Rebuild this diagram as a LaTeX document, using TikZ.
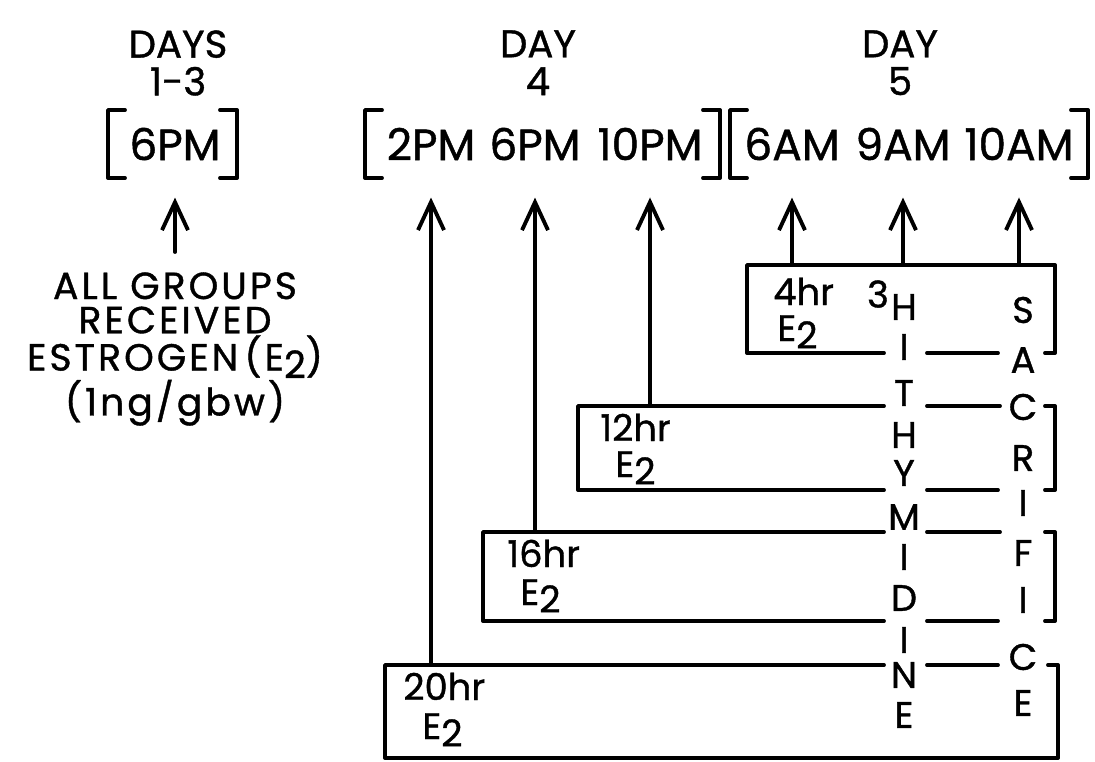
\documentclass[tikz,border=0pt]{standalone}
\usepackage{fontspec}
\setmainfont{Poppins}[FakeBold=1]
\newfontfamily\widefont{Poppins}[FakeBold=1, LetterSpace=8]
\usetikzlibrary{arrows.meta, positioning}

\newcommand{\Etwo}{E\raisebox{-0.2em}{2}}

\begin{document}
\begin{tikzpicture}[x=0.02cm, y=-0.02cm, every node/.style={inner sep=0pt}]
    % Define styles
    \tikzstyle{head} = [font=\fontsize{22}{21.5}\selectfont, align=center, anchor=north]
    \tikzstyle{clock} = [font=\fontsize{25}{25}\selectfont]
    \tikzstyle{dose} = [font=\fontsize{21}{21}\selectfont, anchor=base west]
    \tikzstyle{letter} = [font=\fontsize{21}{21}\selectfont]
    \tikzstyle{rule} = [line width=2.2pt, line cap=round, line join=round]
    \tikzstyle{uparrow} = [rule, -{Straight Barb[length=0.56cm, width=0.52cm]}]

    \useasboundingbox (0,0) rectangle (1095,761);

    % Day headers
    \node[head] (days13) at (178,30) {DAYS\\1-3};
    \node[head] (day4) at (538,30) {DAY\\4};
    \node[head] (day5) at (900,30) {DAY\\5};

    % Clock times
    \node[clock] (t6pm) at (175,144) {6PM};
    \node[clock] (t2pm) at (431,144) {2PM};
    \node[clock] (t6pmb) at (535,144) {6PM};
    \node[clock] (t10pm) at (650,144) {10PM};
    \node[clock] (t6am) at (792,144) {6AM};
    \node[clock] (t9am) at (903,144) {9AM};
    \node[clock] (t10am) at (1019,144) {10AM};

    % Brackets round the times
    \foreach \xl/\xr in {108/237, 365/720, 730/1088} {
        \draw[rule] (\xl+17,110) -- (\xl,110) -- (\xl,178) -- (\xl+17,178);
        \draw[rule] (\xr-17,110) -- (\xr,110) -- (\xr,178) -- (\xr-17,178);
    }

    % Days 1-3 note
    \node[font=\widefont\fontsize{21.5}{19.5}\selectfont, align=center, anchor=north] (allgrp) at (175,272)
        {ALL GROUPS\\RECEIVED\\ESTROGEN\,(\Etwo)\\(1ng/gbw)};

    % Vertical words
    \node[letter] (iso) at (878,294) {3};
    \foreach \ch/\yy [count=\i] in {H/307, I/347, T/393, H/435, Y/473, M/517, I/557, D/598, I/640, N/675, E/715}
        \node[letter] (th\i) at (904,\yy) {\ch};
    \foreach \ch/\yy [count=\i] in {S/310, A/360, C/407, R/458, I/503, F/553, I/600, C/657, E/703}
        \node[letter] (sa\i) at (1023,\yy) {\ch};

    % Group boxes
    \coordinate (top4) at (747,265);
    \coordinate (top12) at (578,406);
    \coordinate (top16) at (483,532);
    \coordinate (top20) at (385,665);

    \draw[rule] (1045,353) -- (1055,353) -- (1055,265) -- (747,265) -- (747,353) -- (884,353);
    \draw[rule] (927,353) -- (998,353);
    \foreach \xl/\yt/\yb in {578/406/490, 483/532/621} {
        \draw[rule] (884,\yt) -- (\xl,\yt) -- (\xl,\yb) -- (884,\yb);
        \draw[rule] (927,\yt) -- (1000,\yt) (927,\yb) -- (998,\yb);
        \draw[rule] (1045,\yt) -- (1055,\yt) -- (1055,\yb) -- (1045,\yb);
    }
    \draw[rule] (884,665) -- (385,665) -- (385,758) -- (1058,758) -- (1058,665) -- (1048,665);
    \draw[rule] (927,665) -- (998,665);

    % Group labels
    \node[dose] (h4) at (773,305) {4hr};
    \node[dose] (e4) at (777,341) {\Etwo};
    \node[dose] (h12) at (600,441) {12hr};
    \node[dose] (e12) at (615,477) {\Etwo};
    \node[dose] (h16) at (507,567) {16hr};
    \node[dose] (e16) at (520,605) {\Etwo};
    \node[dose] (h20) at (403,700) {20hr};
    \node[dose] (e20) at (422,739) {\Etwo};

    % Arrows up to the times
    \draw[uparrow] ([yshift=0.4cm]allgrp.north) -- ([yshift=-0.74cm]t6pm.south);
    \foreach \lbl/\grp in {t2pm/top20, t6pmb/top16, t10pm/top12, t6am/top4, t9am/top4, t10am/top4}
        \draw[uparrow] (\lbl |- \grp) -- ([yshift=-0.74cm]\lbl.south);

\end{tikzpicture}
\end{document}
